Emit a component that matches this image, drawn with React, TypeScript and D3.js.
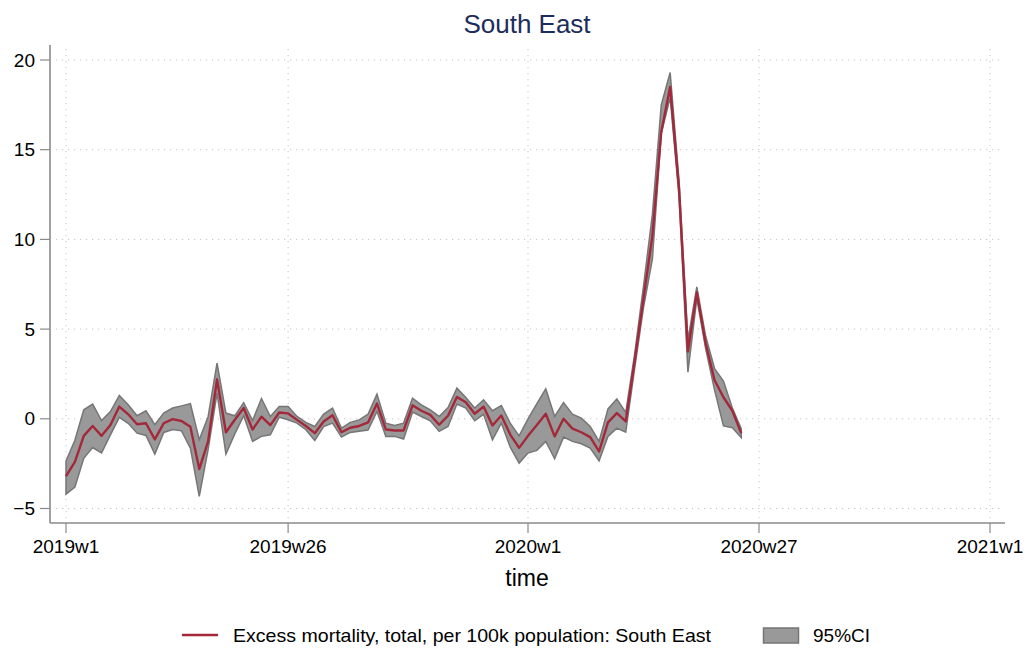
import React from "react";
import * as d3 from "d3";

// Week index 0 = 2019w1 (52 weeks per year)
const meanValues = [
  -3.2, -2.4, -0.95, -0.4, -0.95, -0.35, 0.68, 0.25, -0.3, -0.25,
  -1.15, -0.25, -0.02, -0.12, -0.45, -2.8, -1.25, 2.2, -0.75, -0.05,
  0.6, -0.6, 0.12, -0.35, 0.35, 0.3, -0.06, -0.4, -0.8, -0.15,
  0.2, -0.75, -0.5, -0.4, -0.2, 0.85, -0.6, -0.65, -0.65, 0.75,
  0.45, 0.22, -0.33, 0.17, 1.22, 0.92, 0.28, 0.68, -0.37, 0.18,
  -0.88, -1.62, -0.95, -0.35, 0.28, -0.98, 0.0, -0.55, -0.75, -1.02,
  -1.82, -0.2, 0.32, -0.15, 3.2, 6.7, 10.2, 16.0, 18.5, 12.8,
  3.75, 7.05, 4.2, 2.15, 1.2, 0.45, -0.8,
];
const upperValues = [
  -2.35, -1.2, 0.5, 0.82, -0.1, 0.4, 1.3, 0.78, 0.17, 0.45,
  -0.33, 0.32, 0.6, 0.72, 0.84, -1.17, 0.13, 3.1, 0.32, 0.17,
  0.9, -0.1, 1.13, 0.13, 0.69, 0.69, 0.13, -0.2, -0.43, 0.26,
  0.6, -0.52, -0.2, -0.06, 0.26, 1.37, -0.24, -0.37, -0.24, 1.15,
  0.78, 0.5, 0.13, 0.63, 1.71, 1.19, 0.6, 1.06, 0.45, 0.74,
  -0.24, -0.95, 0.0, 0.84, 1.67, 0.13, 0.91, 0.26, 0.04, -0.43,
  -1.26, 0.55, 1.11, 0.35, 3.6, 7.4, 11.4, 17.5, 19.3, 13.3,
  4.4, 7.35, 4.6, 2.8, 2.1, 0.6, -0.55,
];
const lowerValues = [
  -4.2, -3.8, -2.2, -1.6, -1.9, -0.9, 0.08, -0.25, -0.8, -0.93,
  -1.97, -0.76, -0.6, -0.67, -1.63, -4.33, -1.7, 1.43, -1.97, -0.84,
  0.17, -1.26, -0.98, -0.89, 0.09, -0.05, -0.24, -0.61, -1.21, -0.43,
  -0.24, -1.02, -0.76, -0.7, -0.63, 0.41, -0.98, -0.98, -1.13, 0.37,
  0.13, -0.11, -0.7, -0.43, 0.82, 0.6, -0.11, 0.25, -1.17, -0.24,
  -1.58, -2.47, -1.91, -1.76, -1.26, -2.23, -1.02, -1.26, -1.39, -1.63,
  -2.34, -0.98, -0.52, -0.74, 2.8, 6.2, 8.9, 15.9, 17.9, 12.4,
  2.6, 6.7, 3.9, 1.6, -0.4, -0.5, -1.05,
];

const xTickWeeks = [0, 25, 52, 78, 104];
const xTickLabels = ["2019w1", "2019w26", "2020w1", "2020w27", "2021w1"];
const yTicks = [-5, 0, 5, 10, 15, 20];

const title = "South East";
const xTitle = "time";
const lineLabel = "Excess mortality, total, per 100k population: South East";
const bandLabel = "95%CI";

const W = 1033;
const H = 648;
const FONT = "'Liberation Sans', Arial, Helvetica, sans-serif";

export default function App() {
  const x = d3.scaleLinear().domain([0, 104]).range([66, 990]);
  const y = d3.scaleLinear().domain([-5, 20]).range([508.5, 60]);

  const rows = meanValues.map((m, i) => ({
    t: i,
    m,
    lo: lowerValues[i],
    hi: upperValues[i],
  }));

  const area = d3
    .area<any>()
    .x((d) => x(d.t))
    .y0((d) => y(d.lo))
    .y1((d) => y(d.hi));
  const line = d3
    .line<any>()
    .x((d) => x(d.t))
    .y((d) => y(d.m));

  const plotLeft = 50;
  const plotRight = 1005;
  const plotTop = 45;
  const plotBottom = 523;
  const axisColor = "#8a8a8a";
  const gridColor = "#c4c4c4";
  const lineColor = "#a3293a";

  return (
    <svg
      width={W}
      height={H}
      style={{ position: "absolute", left: 0, top: 0, background: "#fff" }}
      fontFamily={FONT}
    >
      <rect x={0} y={0} width={W} height={H} fill="#fff" />
      <text x={527} y={33} textAnchor="middle" fontSize={26} fill="#1c2d5c">
        {title}
      </text>

      {/* grid */}
      {yTicks.map((v) => (
        <line
          key={"gy" + v}
          x1={plotLeft + 6}
          x2={plotRight - 4}
          y1={y(v)}
          y2={y(v)}
          stroke={gridColor}
          strokeWidth={1}
          strokeDasharray="1.2,4.8"
        />
      ))}
      {xTickWeeks.map((w) => (
        <line
          key={"gx" + w}
          x1={x(w)}
          x2={x(w)}
          y1={plotTop + 4}
          y2={plotBottom - 4}
          stroke={gridColor}
          strokeWidth={1}
          strokeDasharray="1.2,4.8"
        />
      ))}

      {/* band and line */}
      <path
        d={area(rows) || ""}
        fill="#999999"
        stroke="#767676"
        strokeWidth={1.5}
        strokeLinejoin="miter"
      />
      <path
        d={line(rows) || ""}
        fill="none"
        stroke={lineColor}
        strokeWidth={2.4}
        strokeLinejoin="round"
      />

      {/* axes */}
      <line x1={plotLeft} x2={plotLeft} y1={plotTop} y2={plotBottom} stroke={axisColor} strokeWidth={1.6} />
      <line x1={plotLeft} x2={plotRight} y1={plotBottom} y2={plotBottom} stroke={axisColor} strokeWidth={1.6} />
      {yTicks.map((v) => (
        <g key={"ty" + v}>
          <line x1={40} x2={plotLeft} y1={y(v)} y2={y(v)} stroke={axisColor} strokeWidth={1.2} />
          <text x={35} y={y(v)} dy="0.35em" textAnchor="end" fontSize={19} fill="#000">
            {v < 0 ? "\u2212" + Math.abs(v) : String(v)}
          </text>
        </g>
      ))}
      {xTickWeeks.map((w, i) => (
        <g key={"tx" + w}>
          <line x1={x(w)} x2={x(w)} y1={plotBottom} y2={plotBottom + 10} stroke={axisColor} strokeWidth={1.2} />
          <text x={x(w)} y={553} textAnchor="middle" fontSize={19} fill="#000">
            {xTickLabels[i]}
          </text>
        </g>
      ))}
      <text x={527} y={586} textAnchor="middle" fontSize={23} fill="#000">
        {xTitle}
      </text>

      {/* legend */}
      <line x1={182} x2={218} y1={635} y2={635} stroke={lineColor} strokeWidth={2.4} />
      <text x={233} y={642} fontSize={19} fill="#000" textLength={478} lengthAdjust="spacingAndGlyphs">
        {lineLabel}
      </text>
      <rect x={763.5} y={628} width={35} height={15} fill="#999999" stroke="#767676" strokeWidth={1.5} />
      <text x={813} y={642} fontSize={19} fill="#000">
        {bandLabel}
      </text>
    </svg>
  );
}
